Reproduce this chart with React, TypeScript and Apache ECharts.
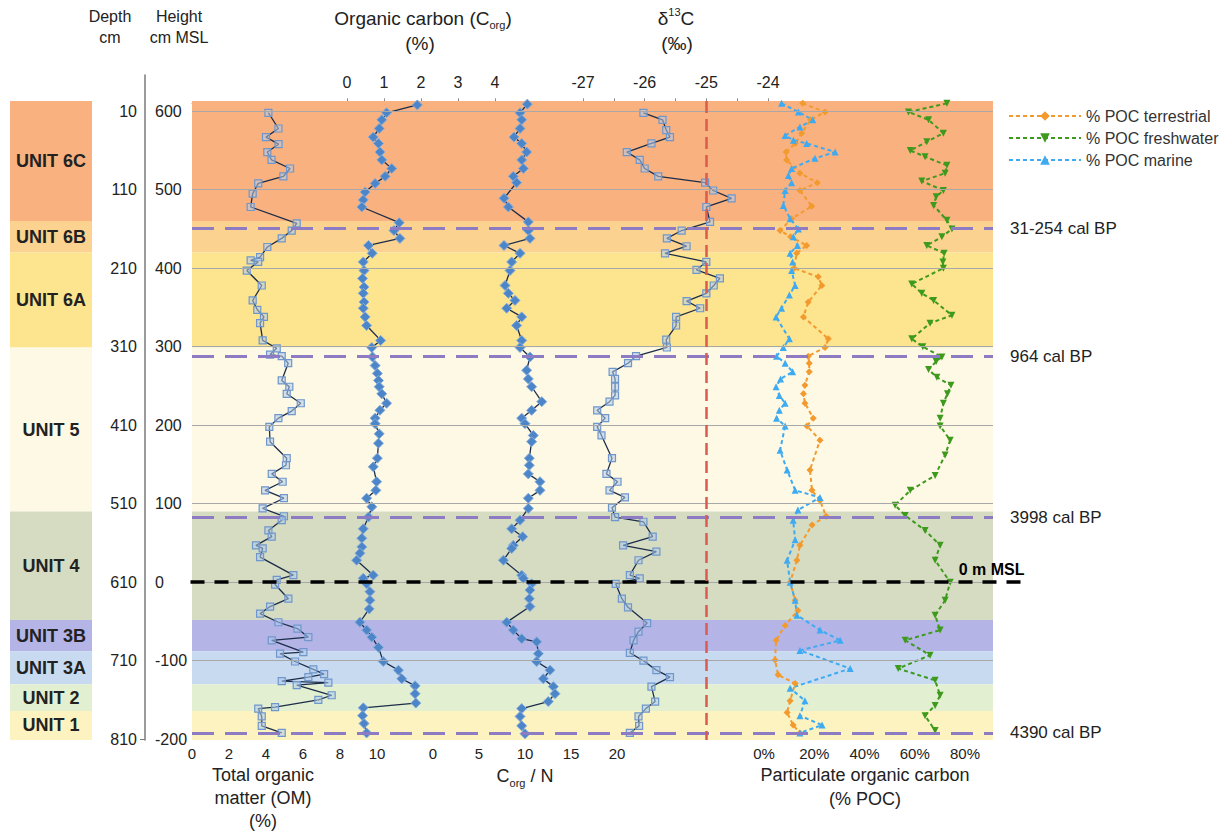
import React, { useEffect, useRef } from "react";
import * as echarts from "echarts";

// ---------------- data ----------------
const unitNames = ["UNIT 6C", "UNIT 6B", "UNIT 6A", "UNIT 5", "UNIT 4", "UNIT 3B", "UNIT 3A", "UNIT 2", "UNIT 1"];
const unitTops = [-3, 150, 190, 311, 520, 658, 698, 740, 774];
const unitBottoms = [150, 190, 311, 520, 658, 698, 740, 774, 811];
const unitColors = ["#f9b17f", "#fbd290", "#fde48f", "#fef9e4", "#d5dcc2", "#b4b4e7", "#c7daf0", "#e2efd0", "#fcf3c0"];

const depthTicks = [10, 110, 210, 310, 410, 510, 610, 710, 810];
const gridDepths = [10, 110, 210, 310, 410, 510, 610, 710];
const ageDepths = [159, 322, 527, 802];
const ageLabels = ["31-254 cal BP", "964 cal BP", "3998 cal BP", "4390 cal BP"];
const mslDepth = 610;
const d13cRef = -25;

const tomDepth = [12, 32, 43, 52, 62, 72, 83, 93, 102, 115, 132, 153, 162, 172, 183, 196, 200, 202, 213, 232, 251, 263, 272, 280, 302, 312, 320, 322, 331, 353, 361, 370, 382, 392, 401, 412, 431, 452, 461, 472, 482, 493, 503, 516, 526, 531, 544, 552, 563, 567, 578, 601, 607, 613, 631, 641, 650, 661, 669, 680, 684, 699, 701, 711, 721, 727, 731, 736, 738, 741, 754, 760, 769, 771, 781, 793, 802];
const tomValue = [4.13, 4.67, 4.0, 4.68, 4.07, 4.3, 5.3, 4.94, 3.58, 3.28, 3.17, 5.66, 5.39, 4.85, 4.07, 3.68, 3.17, 3.58, 2.96, 3.77, 3.28, 3.53, 3.89, 3.68, 3.82, 4.58, 4.22, 4.85, 5.2, 4.85, 5.26, 5.12, 5.88, 5.39, 4.67, 4.18, 4.22, 5.12, 5.08, 4.31, 4.9, 3.95, 4.97, 3.82, 4.97, 4.85, 4.13, 4.31, 3.46, 3.82, 3.68, 5.48, 4.58, 4.49, 5.21, 4.22, 3.68, 4.67, 5.7, 6.29, 4.31, 6.02, 4.76, 5.57, 6.56, 7.14, 6.29, 4.85, 7.37, 5.66, 7.55, 6.83, 4.49, 3.58, 3.77, 3.77, 4.85];

const corgDepth = [2, 12, 21, 32, 43, 51, 62, 72, 83, 93, 102, 113, 123, 132, 152, 162, 172, 181, 191, 202, 213, 223, 234, 242, 253, 261, 272, 283, 302, 311, 323, 334, 344, 353, 361, 370, 382, 391, 401, 408, 421, 433, 452, 463, 482, 493, 503, 514, 527, 542, 554, 565, 573, 582, 601, 605, 612, 622, 633, 644, 661, 671, 680, 693, 711, 722, 733, 742, 752, 764, 770, 780, 790, 802];
const corgValue = [1.9, 1.07, 0.94, 0.87, 0.71, 0.85, 0.89, 0.94, 1.21, 1.03, 0.76, 0.49, 0.44, 0.4, 1.41, 1.27, 1.43, 0.58, 0.68, 0.44, 0.46, 0.42, 0.46, 0.44, 0.46, 0.44, 0.49, 0.53, 0.91, 0.67, 0.69, 0.76, 0.82, 0.85, 0.87, 0.94, 1.07, 0.89, 0.76, 0.76, 0.87, 0.85, 0.82, 0.71, 0.8, 0.78, 0.53, 0.67, 0.58, 0.44, 0.4, 0.4, 0.35, 0.26, 0.71, 0.44, 0.53, 0.62, 0.62, 0.6, 0.35, 0.53, 0.67, 0.85, 0.98, 1.39, 1.48, 1.84, 1.84, 1.86, 0.44, 0.42, 0.46, 0.53];

const cnDepth = [1, 12, 21, 32, 43, 51, 62, 72, 83, 93, 101, 121, 132, 151, 162, 172, 181, 191, 202, 213, 232, 242, 251, 261, 272, 283, 302, 311, 323, 340, 351, 361, 380, 391, 401, 408, 423, 431, 452, 461, 472, 482, 493, 503, 516, 531, 542, 552, 563, 567, 582, 601, 605, 612, 620, 631, 641, 661, 671, 682, 686, 701, 711, 722, 733, 743, 752, 762, 771, 781, 793, 803];
const cnValue = [10.25, 9.46, 9.64, 9.46, 8.8, 9.64, 10.18, 9.64, 9.82, 8.73, 9.09, 7.72, 8.19, 10.36, 10.36, 10.54, 7.72, 9.46, 8.55, 8.37, 7.83, 8.19, 8.91, 8.01, 9.64, 9.09, 9.64, 9.46, 10.54, 10.18, 10.36, 10.72, 11.82, 10.72, 9.64, 10.0, 10.9, 10.72, 10.47, 10.47, 10.36, 11.63, 11.63, 10.36, 10.36, 9.46, 8.55, 9.75, 8.73, 8.55, 7.65, 9.64, 9.82, 10.72, 10.54, 10.47, 10.54, 8.01, 8.73, 9.64, 11.27, 11.45, 11.27, 12.72, 11.99, 13.08, 13.26, 12.53, 9.64, 9.46, 9.64, 10.0];

const d13cDepth = [12, 21, 34, 43, 51, 62, 72, 83, 93, 101, 111, 121, 132, 151, 162, 172, 182, 191, 202, 212, 223, 232, 242, 252, 261, 272, 283, 301, 311, 322, 331, 342, 351, 361, 372, 380, 391, 401, 412, 423, 452, 472, 482, 493, 502, 515, 527, 533, 552, 563, 571, 582, 601, 605, 612, 631, 642, 662, 673, 684, 700, 710, 722, 731, 743, 762, 771, 781, 793, 802];
const d13cValue = [-26.02, -25.71, -25.65, -25.59, -25.89, -26.29, -26.08, -26.0, -25.78, -25.02, -24.89, -24.59, -25.0, -24.94, -25.4, -25.64, -25.32, -25.67, -25.0, -25.16, -24.78, -24.88, -25.0, -25.32, -25.1, -25.49, -25.49, -25.65, -25.64, -26.14, -26.27, -26.52, -26.48, -26.48, -26.48, -26.57, -26.77, -26.64, -26.77, -26.7, -26.53, -26.62, -26.44, -26.57, -26.32, -26.53, -26.48, -26.02, -25.87, -26.35, -25.81, -26.1, -26.24, -26.08, -26.47, -26.37, -26.27, -25.96, -26.1, -26.18, -26.24, -26.02, -25.81, -25.59, -25.89, -25.83, -25.98, -26.1, -26.09, -26.24];

const terrDepth = [0, 11, 21, 38, 51, 62, 72, 89, 101, 111, 131, 147, 162, 170, 181, 191, 210, 221, 232, 253, 272, 300, 311, 322, 331, 342, 359, 370, 382, 401, 411, 429, 467, 493, 506, 526, 537, 563, 582, 610, 633, 646, 665, 684, 709, 728, 739, 761, 776, 792, 802];
const terrValue = [15.4, 24.3, 18.6, 15.0, 12.4, 8.8, 9.0, 14.3, 21.2, 14.3, 19.0, 11.0, 6.4, 10.6, 17.0, 13.0, 12.0, 21.6, 23.0, 17.6, 15.7, 25.6, 24.3, 17.6, 18.0, 18.0, 16.3, 15.7, 16.3, 19.6, 17.1, 22.3, 18.3, 19.1, 22.3, 24.7, 19.1, 14.3, 13.1, 10.4, 12.4, 13.5, 8.4, 4.8, 4.4, 5.6, 12.4, 10.4, 9.2, 11.6, 14.3];

const marDepth = [0, 11, 21, 30, 41, 47, 51, 62, 70, 83, 92, 101, 111, 130, 147, 160, 170, 181, 191, 202, 213, 232, 244, 261, 272, 300, 311, 322, 331, 342, 351, 361, 372, 382, 391, 401, 411, 442, 467, 493, 502, 518, 531, 556, 582, 610, 633, 652, 671, 684, 697, 720, 745, 761, 780, 792, 802];
const marValue = [7.0, 13.7, 19.4, 14.3, 8.4, 11.7, 17.0, 28.3, 20.3, 11.0, 9.7, 11.0, 8.4, 7.7, 10.4, 13.7, 11.7, 13.3, 10.4, 11.4, 11.0, 12.4, 10.1, 7.0, 4.8, 10.1, 7.7, 5.0, 8.4, 11.4, 6.6, 4.8, 6.1, 8.4, 6.1, 5.0, 8.4, 6.4, 9.2, 12.4, 22.3, 13.5, 11.6, 12.4, 9.2, 10.4, 12.4, 13.1, 22.3, 30.3, 14.3, 34.3, 10.4, 16.3, 14.3, 23.1, 14.3];

const freshDepth = [0, 11, 21, 38, 49, 60, 68, 79, 89, 99, 111, 119, 130, 149, 160, 170, 181, 191, 202, 210, 230, 242, 251, 270, 280, 300, 310, 323, 329, 339, 349, 359, 370, 382, 401, 411, 429, 448, 474, 493, 512, 525, 544, 563, 582, 610, 633, 652, 671, 684, 703, 720, 735, 754, 767, 780, 799];
const freshValue = [72.8, 57.5, 65.5, 71.4, 64.8, 58.2, 64.1, 72.8, 72.1, 62.8, 71.4, 68.5, 67.5, 72.8, 74.8, 70.8, 64.8, 71.7, 71.2, 71.4, 58.8, 62.8, 67.5, 74.8, 66.1, 58.8, 63.2, 70.8, 68.5, 65.5, 68.8, 74.4, 73.0, 71.4, 70.1, 70.1, 74.1, 72.1, 68.1, 58.2, 52.2, 56.2, 64.1, 70.1, 68.1, 74.1, 72.1, 68.1, 70.1, 56.2, 66.1, 53.4, 68.1, 70.1, 68.1, 64.1, 68.1];

// ---------------- layout ----------------
const FONT = "'Liberation Sans', Arial, Helvetica, sans-serif";
const D_MIN = -3;
const D_MAX = 811;
const PLOT_TOP = 101;
const PLOT_H = 639;
const AXIS_TOP = 75;
const BG_W = 840; // background grid spans 190..1030 px
const BAND_X0 = 2;
const BAND_X1 = 803;

const pairs = (vals: number[], depths: number[]) => vals.map((v, i) => [v, depths[i]]);

function buildOption(): any {
  const k = PLOT_H / (D_MAX - D_MIN);
  const axisMin = D_MIN - (PLOT_TOP - AXIS_TOP) / k;

  const g = (left: number, width: number, top = PLOT_TOP, height = PLOT_H) => ({
    left, width, top, height, containLabel: false, outerBoundsMode: "none",
  });
  const grid = [
    g(190, BG_W), // 0 background
    g(10, 82), // 1 unit labels
    g(145, 1, AXIS_TOP, PLOT_H + PLOT_TOP - AXIS_TOP), // 2 depth axis
    g(192, 185), // 3 TOM
    g(347, 148), // 4 Corg
    g(433, 184), // 5 C/N
    g(583, 185), // 6 d13C
    g(764, 201), // 7 POC
  ];

  const hiddenX = (gi: number, min: number, max: number) => ({ type: "value", gridIndex: gi, min, max, show: false });
  const depthY = (gi: number) => ({ type: "value", gridIndex: gi, inverse: true, min: D_MIN, max: D_MAX, show: false });
  const lbl = { color: "#222", fontSize: 16, fontFamily: FONT };
  const blbl = { color: "#222", fontSize: 15, fontFamily: FONT };

  const xAxis = [
    hiddenX(0, 0, BG_W),
    hiddenX(1, 0, 1),
    hiddenX(2, 0, 1),
    {
      type: "value", gridIndex: 3, position: "bottom", min: 0, max: 10, interval: 2,
      axisLine: { show: true, lineStyle: { color: "#9a9a9a", width: 1 } },
      axisTick: { show: true, length: 4, lineStyle: { color: "#9a9a9a" } },
      axisLabel: { ...blbl, margin: 6 }, splitLine: { show: false },
    },
    {
      type: "value", gridIndex: 4, position: "top", offset: 4, min: 0, max: 4, interval: 1,
      axisLine: { show: true, lineStyle: { color: "#8a8a8a", width: 1 } },
      axisTick: { show: true, length: 5, lineStyle: { color: "#8a8a8a" } },
      axisLabel: { ...lbl, margin: 7 }, splitLine: { show: false },
    },
    {
      type: "value", gridIndex: 5, position: "bottom", min: 0, max: 20, interval: 5,
      axisLine: { show: true, lineStyle: { color: "#9a9a9a", width: 1 } },
      axisTick: { show: true, length: 4, lineStyle: { color: "#9a9a9a" } },
      axisLabel: { ...blbl, margin: 6 }, splitLine: { show: false },
    },
    {
      type: "value", gridIndex: 6, position: "top", offset: 4, min: -27, max: -24, interval: 0.5,
      axisLine: { show: true, lineStyle: { color: "#8a8a8a", width: 1 } },
      axisTick: { show: true, length: 5, lineStyle: { color: "#8a8a8a" } },
      axisLabel: {
        ...lbl, margin: 7,
        formatter: (v: number) => (Math.abs(v - Math.round(v)) < 1e-6 ? String(Math.round(v)) : ""),
      },
      splitLine: { show: false },
    },
    {
      type: "value", gridIndex: 7, position: "bottom", min: 0, max: 80, interval: 20,
      axisLine: { show: false }, axisTick: { show: false },
      axisLabel: { ...blbl, margin: 6, formatter: "{value}%" }, splitLine: { show: false },
    },
  ];

  const yAxis = [
    depthY(0),
    depthY(1),
    {
      type: "value", gridIndex: 2, inverse: true, min: axisMin, max: D_MAX, position: "left",
      axisLine: { show: true, lineStyle: { color: "#7a7a7a", width: 1.5 } },
      axisTick: { show: true, length: 5, customValues: [810], lineStyle: { color: "#7a7a7a" } },
      axisLabel: { ...lbl, margin: 8, customValues: depthTicks },
      splitLine: { show: false },
    },
    {
      type: "value", gridIndex: 2, inverse: true, min: axisMin, max: D_MAX, position: "left",
      axisLine: { show: false }, axisTick: { show: false },
      axisLabel: { ...lbl, inside: true, margin: 10, customValues: depthTicks, formatter: (v: number) => String(610 - v) },
      splitLine: { show: false },
    },
    depthY(3),
    depthY(4),
    depthY(5),
    depthY(6),
    depthY(7),
  ];

  const bandsSeries = {
    type: "line", name: "bands", xAxisIndex: 0, yAxisIndex: 0, z: 0, silent: true,
    data: [[0, D_MIN]], symbol: "none", lineStyle: { width: 0 },
    markArea: {
      silent: true, label: { show: false }, itemStyle: { opacity: 1 },
      data: unitNames.map((n, i) => [
        { xAxis: BAND_X0, yAxis: unitTops[i], itemStyle: { color: unitColors[i], opacity: 1 } },
        { xAxis: BAND_X1, yAxis: unitBottoms[i] },
      ]),
    },
  };

  const linesSeries = {
    type: "line", name: "lines", xAxisIndex: 0, yAxisIndex: 0, z: 1, silent: true,
    data: [[0, D_MIN]], symbol: "none", lineStyle: { width: 0 },
    markLine: {
      silent: true, symbol: ["none", "none"], animation: false,
      data: [
        ...gridDepths.map((d) => [
          { coord: [BAND_X0, d], lineStyle: { color: "#a8a8a8", width: 1, type: "solid" }, label: { show: false } },
          { coord: [BAND_X1, d] },
        ]),
        ...ageDepths.map((d, i) => [
          {
            coord: [BAND_X0, d],
            lineStyle: { color: "#8d7bc3", width: 3, type: [22, 11] },
            label: { show: true, position: "end", distance: 17, formatter: ageLabels[i], fontSize: 17, color: "#222", fontFamily: FONT },
          },
          { coord: [BAND_X1, d] },
        ]),
        [
          {
            coord: [0.5, mslDepth],
            lineStyle: { color: "#000", width: 3.5, type: [14, 10] },
            label: { show: true, position: "insideEndTop", distance: 5, formatter: "0 m MSL", fontSize: 16, fontWeight: "bold", color: "#000", fontFamily: FONT },
          },
          { coord: [BG_W - 0.5, mslDepth] },
        ],
      ],
    },
  };

  const unitSeries = {
    type: "line", name: "units", xAxisIndex: 1, yAxisIndex: 1, z: 0, silent: true,
    data: [[0, D_MIN]], symbol: "none", lineStyle: { width: 0 },
    markArea: {
      silent: true, itemStyle: { opacity: 1 },
      label: { show: true, position: "inside", fontSize: 18, fontWeight: "bold", color: "#222", fontFamily: FONT },
      data: unitNames.map((n, i) => [
        { name: n, xAxis: 0, yAxis: unitTops[i], itemStyle: { color: unitColors[i], opacity: 1 } },
        { xAxis: 1, yAxis: unitBottoms[i] },
      ]),
    },
  };

  const squareStyle = { color: "rgba(175,202,236,0.55)", borderColor: "#6f97cc", borderWidth: 1.2 };
  const diamondStyle = { color: "#4d86c8", borderColor: "#86addb", borderWidth: 1 };
  const dataLine = { color: "#1c2d49", width: 1.3 };

  const tomSeries = {
    type: "line", name: "TOM", xAxisIndex: 3, yAxisIndex: 4, z: 3, data: pairs(tomValue, tomDepth),
    symbol: "rect", symbolSize: 7, showAllSymbol: true, itemStyle: squareStyle, lineStyle: dataLine,
  };
  const corgSeries = {
    type: "line", name: "Corg", xAxisIndex: 4, yAxisIndex: 5, z: 3, data: pairs(corgValue, corgDepth),
    symbol: "diamond", symbolSize: 10, showAllSymbol: true, itemStyle: diamondStyle, lineStyle: dataLine,
  };
  const cnSeries = {
    type: "line", name: "CN", xAxisIndex: 5, yAxisIndex: 6, z: 3, data: pairs(cnValue, cnDepth),
    symbol: "diamond", symbolSize: 10, showAllSymbol: true, itemStyle: diamondStyle, lineStyle: dataLine,
  };
  const d13cSeries = {
    type: "line", name: "d13C", xAxisIndex: 6, yAxisIndex: 7, z: 3, data: pairs(d13cValue, d13cDepth),
    symbol: "rect", symbolSize: 7, showAllSymbol: true, itemStyle: squareStyle, lineStyle: dataLine,
    markLine: {
      silent: true, symbol: ["none", "none"], label: { show: false },
      lineStyle: { color: "#dc5a4e", width: 2.5, type: [12, 6] },
      data: [{ xAxis: d13cRef }],
    },
  };

  const pocSeries = (name: string, vals: number[], depths: number[], color: string, symbol: string, rotate: number) => ({
    type: "line", name, xAxisIndex: 7, yAxisIndex: 8, z: 3, data: pairs(vals, depths),
    symbol, symbolSize: 7, symbolRotate: rotate, showAllSymbol: true,
    itemStyle: { color }, lineStyle: { color, width: 2, type: [4, 3] },
  });

  const txt = (text: string, x: number, y: number, size = 18, extra: any = {}) => ({
    type: "text", x, y, silent: true,
    style: { text, fill: "#222", fontSize: size, fontFamily: FONT, textAlign: "center", textVerticalAlign: "middle", ...extra },
  });
  const sub = { s: { fontSize: 11, fontFamily: FONT, fill: "#222", verticalAlign: "bottom", lineHeight: 24 } };
  const sup = { p: { fontSize: 11, fontFamily: FONT, fill: "#222", verticalAlign: "top", lineHeight: 24 } };

  const graphic = [
    txt("Depth", 110, 16, 16),
    txt("cm", 110, 37, 16),
    txt("Height", 179, 16, 16),
    txt("cm MSL", 179, 37, 16),
    txt("Organic carbon (C{s|org})", 423, 18, 19, { rich: sub, lineHeight: 24 }),
    txt("(%)", 420, 43, 19),
    txt("δ{p|13}C", 676, 18, 19, { rich: sup, lineHeight: 24 }),
    txt("(‰)", 677, 43, 19),
    txt("Total organic", 263, 775, 18),
    txt("matter (OM)", 263, 798, 18),
    txt("(%)", 263, 821, 18),
    txt("C{s|org} / N", 525, 776, 18, { rich: sub, lineHeight: 24 }),
    txt("Particulate organic carbon", 865, 775, 18),
    txt("(% POC)", 865, 799, 18),
  ];

  return {
    animation: false,
    backgroundColor: "#ffffff",
    textStyle: { fontFamily: FONT },
    grid, xAxis, yAxis,
    legend: {
      data: ["% POC terrestrial", "% POC freshwater", "% POC marine"],
      orient: "vertical", left: 1003, top: 103, itemWidth: 72, itemHeight: 12, itemGap: 6,
      textStyle: { fontSize: 16, color: "#333", fontFamily: FONT }, selectedMode: false,
    },
    graphic,
    series: [
      bandsSeries, linesSeries, unitSeries,
      tomSeries, corgSeries, cnSeries, d13cSeries,
      pocSeries("% POC terrestrial", terrValue, terrDepth, "#f39a2e", "diamond", 0),
      pocSeries("% POC freshwater", freshValue, freshDepth, "#3d9a1c", "triangle", 180),
      pocSeries("% POC marine", marValue, marDepth, "#3eaaf2", "triangle", 0),
    ],
  };
}

export default function App() {
  const ref = useRef<HTMLDivElement>(null);
  useEffect(() => {
    if (!ref.current) return;
    const chart = echarts.init(ref.current, null, { renderer: "svg" });
    chart.setOption(buildOption());
    return () => chart.dispose();
  }, []);
  return (
    <div
      ref={ref}
      style={{ position: "absolute", left: 0, top: 0, width: 1228, height: 831, background: "#fff" }}
    />
  );
}
